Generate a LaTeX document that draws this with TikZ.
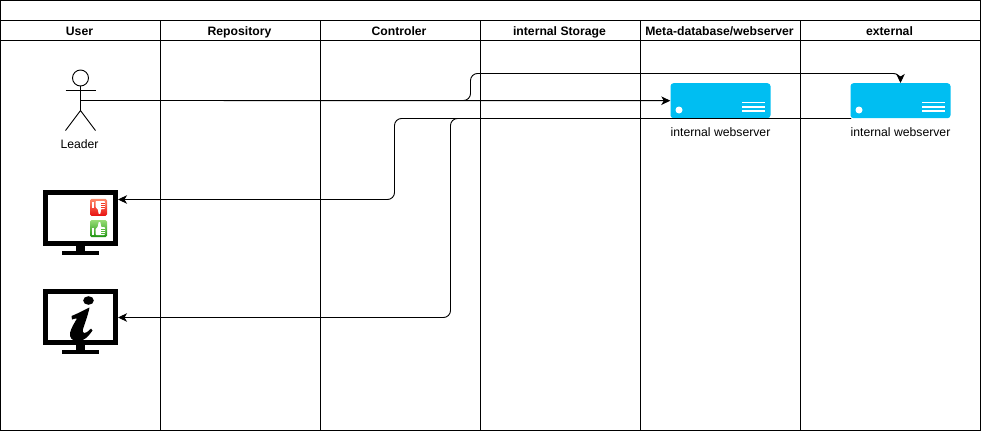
\documentclass[tikz,border=0pt]{standalone}
\usepackage{fontspec}
\setmainfont{Liberation Sans}
\usetikzlibrary{arrows.meta}
\definecolor{serverblue}{HTML}{00BEF2}
\definecolor{redtop}{HTML}{FF8A6A}
\definecolor{redmid}{HTML}{F23A22}
\definecolor{redlow}{HTML}{E81010}
\definecolor{greentop}{HTML}{96DC74}
\definecolor{greenmid}{HTML}{55B83A}
\definecolor{greenlow}{HTML}{1E9410}

\tikzset{
  lane/.style={draw,line width=0.9pt,inner sep=0pt,outer sep=0pt},
  lanehead/.style={inner sep=0pt,anchor=base,font=\fontsize{12.2}{14}\selectfont\bfseries},
  caption/.style={inner sep=0pt,anchor=base,font=\fontsize{12.2}{14}\selectfont},
  stick/.style={line width=0.9pt},
  flow/.style={line width=0.9pt,rounded corners=7pt,-{Stealth[length=9pt,width=8.5pt,inset=2.5pt]}},
  screenbox/.style={draw,line width=5pt,minimum width=70pt,minimum height=51pt,inner sep=0pt,fill=white},
  serverbox/.style={fill=serverblue,rounded corners=3pt,minimum width=100pt,minimum height=35pt,inner sep=0pt},
  thumbbox/.style={rounded corners=1.5pt,minimum size=17pt,inner sep=0pt}
}

\begin{document}
\begin{tikzpicture}[x=1pt,y=-1pt]
  \useasboundingbox (0,0) rectangle (982,431);

  % swimlanes
  \draw[lane] (0.5,0.5) rectangle (980.5,430.5);
  \draw[lane] (0.5,20.5) -- (980.5,20.5);
  \draw[lane] (0.5,40.5) -- (980.5,40.5);
  \foreach \xpos in {160,320,480,640,800}
    \draw[lane] (\xpos.5,20.5) -- (\xpos.5,430.5);
  \foreach \xpos/\title/\name in {79.5/User/huser,239.5/Repository/hrepo,399/Controler/hctrl,
      559.5/internal Storage/hstore,719.5/Meta-database\slash webserver/hmeta,889.5/external/hext}
    \node[lanehead] (\name) at (\xpos,35) {\title};

  % leader
  \node[draw,stick,circle,minimum size=16pt,inner sep=0pt] (leaderhead) at (80.5,78) {};
  \coordinate (leader) at (80.5,100.5);
  \draw[stick] (leaderhead.south) -- (80.5,110.5);
  \draw[stick] (65.5,90.5) -- (95.5,90.5);
  \draw[stick] (65.5,130.5) -- (80.5,110.5) -- (95.5,130.5);
  \node[caption] (leadertext) at (79.5,148) {Leader};

  % servers
  \foreach \name/\xpos in {webint/720.5,webext/900.5} {
    \node[serverbox] (\name) at (\xpos,100.7) {};
    \fill[white] (\xpos-41.5,110) circle (3.5pt);
    \foreach \ypos in {102.5,106.7,110.8}
      \draw[white,line width=1.7pt] (\xpos+21.5,\ypos) -- (\xpos+44,\ypos);
    \node[caption] (\name text) at (\xpos,136.5) {internal webserver};
  }

  % monitors
  \foreach \name/\ypos in {vote/218,info/317} {
    \node[screenbox] (\name) at (80.5,\ypos) {};
    \fill (76,\ypos+28) rectangle (85,\ypos+33);
    \fill (62,\ypos+32.5) rectangle (99,\ypos+37);
  }

  % thumbs
  \node[thumbbox,top color=redtop,middle color=redmid,bottom color=redlow] (thumbdown) at (98.5,207.3) {};
  \node[thumbbox,top color=greentop,middle color=greenmid,bottom color=greenlow] (thumbup) at (98.5,228.7) {};
  \fill[white] (91.5,201.5) rectangle (94,208);
  \fill[white,rounded corners=0.8pt] (95.5,201) -- (105,201) -- (105,209) -- (101,209) -- (100.5,214) -- (98.5,214) -- (98,209.5) -- (95.5,207) -- cycle;
  \fill[white] (91.5,228) rectangle (94,234.5);
  \fill[white,rounded corners=0.8pt] (95.5,235) -- (105,235) -- (105,227) -- (101,227) -- (100.5,222) -- (98.5,222) -- (98,226.5) -- (95.5,229) -- cycle;
  \foreach \ypos in {203,205,207}
    \draw[redmid,line width=0.5pt] (101,\ypos) -- (105,\ypos);
  \foreach \ypos in {229,231,233}
    \draw[greenmid,line width=0.5pt] (101,\ypos) -- (105,\ypos);

  % info mark
  \fill (88.5,300.5) ellipse (5.3pt and 4.3pt);
  \fill (71.5,316) .. controls (78,313.5) and (84,310) .. (89.5,307.5)
    .. controls (88,315) and (85,323) .. (83,329)
    .. controls (82,334) and (85,335) .. (91,328.5)
    -- (92.5,330.5) .. controls (88,337) and (84,341) .. (78,341)
    .. controls (72,341) and (69.5,338) .. (70,333)
    .. controls (71,328) and (75,322) .. (77,318.5)
    .. controls (75,318.5) and (73,319) .. (72,319.5) -- cycle;

  % connectors
  \coordinate (jog) at (470.5,73.5);
  \coordinate (webout) at (851,118.5);
  \coordinate (votebend) at (394.5,199.5);
  \coordinate (infobend) at (450.5,317.5);
  \draw[flow] (leader) -- (webint.west);
  \draw[flow] (leader) -| (jog) -| (webext.north);
  \draw[flow] (webout) -| (votebend) -- (vote.east |- votebend);
  \draw[flow] (webout) -| (infobend) -- (info.east |- infobend);
\end{tikzpicture}
\end{document}
